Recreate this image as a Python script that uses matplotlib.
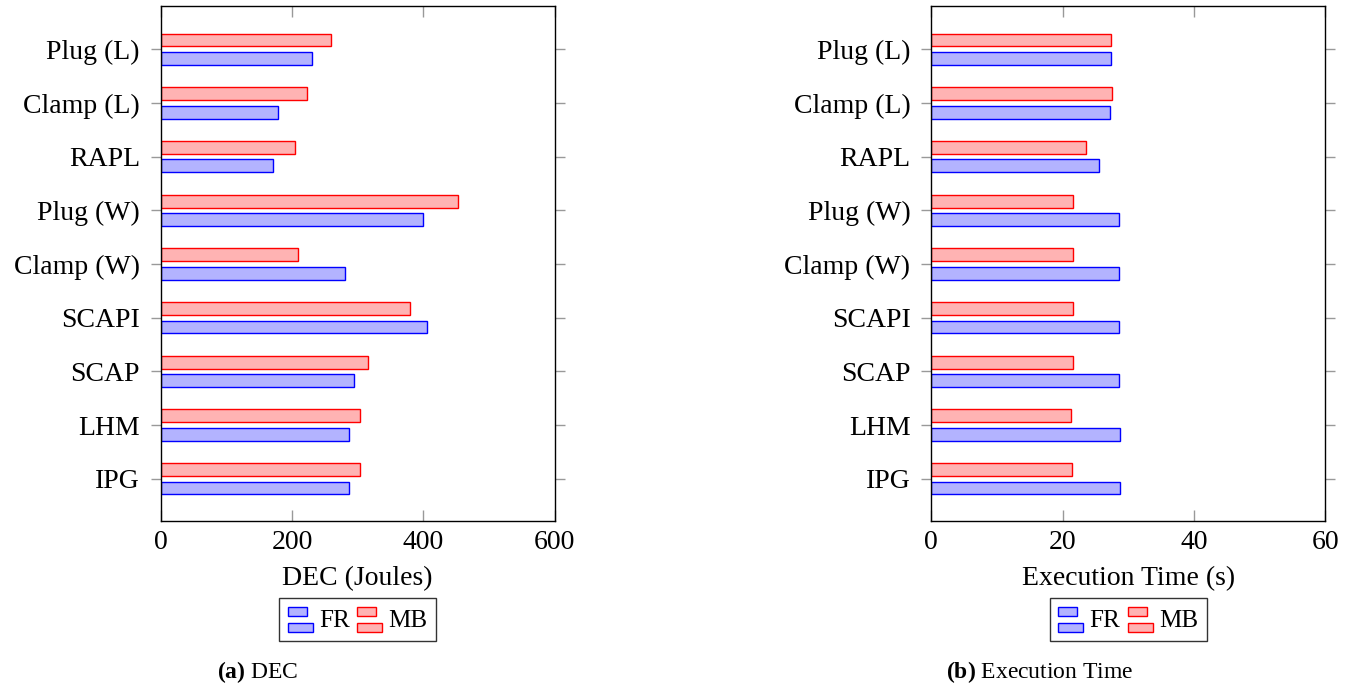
import matplotlib
matplotlib.use("Agg")
import matplotlib.pyplot as plt
import numpy as np
from matplotlib.patches import Rectangle
from matplotlib.container import BarContainer
from matplotlib.legend_handler import HandlerBase

plt.rcParams['font.family'] = ['Liberation Serif', 'DejaVu Serif']
plt.rcParams['mathtext.fontset'] = 'custom'
plt.rcParams['mathtext.rm'] = 'Liberation Serif'
plt.rcParams['mathtext.bf'] = 'Liberation Serif:bold'

# categories, bottom to top
categories = ['IPG', 'LHM', 'SCAP', 'SCAPI', 'Clamp (W)', 'Plug (W)', 'RAPL', 'Clamp (L)', 'Plug (L)']

dec_fr = [286, 286, 295, 405, 280, 400, 171, 178, 231]
dec_mb = [304, 303, 316, 380, 209, 453, 204, 223, 260]

time_fr = [28.7, 28.7, 28.65, 28.65, 28.65, 28.6, 25.6, 27.2, 27.3]
time_mb = [21.5, 21.2, 21.6, 21.6, 21.6, 21.6, 23.5, 27.45, 27.4]

dec_ticks = [0, 200, 400, 600]
time_ticks = [0, 20, 40, 60]

fr_face, fr_edge = '#b3b3ff', '#0000ff'
mb_face, mb_edge = '#ffb3b3', '#ff0000'


class TwoBars(HandlerBase):
    # pgfplots style xbar legend image: two little stacked bars
    def create_artists(self, legend, orig_handle, xdescent, ydescent,
                       width, height, fontsize, trans):
        p = orig_handle.patches[0]
        fc = p.get_facecolor()
        ec = p.get_edgecolor()
        h = height * 0.36
        r1 = Rectangle((-xdescent, -ydescent + height * 0.62), width * 0.75, h,
                       facecolor=fc, edgecolor=ec, lw=1.0, transform=trans)
        r2 = Rectangle((-xdescent, -ydescent - height * 0.05), width, h,
                       facecolor=fc, edgecolor=ec, lw=1.0, transform=trans)
        return [r1, r2]


W, H = 1357, 689
fig = plt.figure(figsize=(W / 100, H / 100), dpi=100)

y = np.arange(len(categories))
off = 0.172
bh = 0.24


def panel(left_px, fr, mb, xmax, ticks, xlabel):
    ax = fig.add_axes([left_px / W, 1 - 520.7 / H, 394 / W, (520.7 - 6.3) / H])
    ax.barh(y - off, fr, height=bh, color=fr_face, edgecolor=fr_edge, lw=1.0, label='FR')
    ax.barh(y + off, mb, height=bh, color=mb_face, edgecolor=mb_edge, lw=1.0, label='MB')
    ax.set_xlim(0, xmax)
    ax.set_ylim(-0.78, 8.8)
    ax.set_xticks(ticks)
    ax.set_yticks(y)
    ax.set_yticklabels(categories)
    ax.tick_params(axis='x', direction='in', length=8, width=1, color='#999999',
                   top=True, labelsize=20, pad=7)
    ax.tick_params(axis='y', direction='out', length=7, width=1, color='#999999',
                   right=True, labelsize=20, pad=8)
    for s in ax.spines.values():
        s.set_linewidth(1.0)
    ax.set_xlabel(xlabel, fontsize=20, labelpad=8)
    leg = ax.legend(loc='upper center', bbox_to_anchor=(0.5, -0.150), ncol=2,
                    fontsize=18, frameon=True, fancybox=False, edgecolor='black',
                    handler_map={BarContainer: TwoBars()},
                    handlelength=1.0, handleheight=1.1, handletextpad=0.25,
                    columnspacing=0.3, borderpad=0.35, borderaxespad=0)
    leg.get_frame().set_linewidth(1.0)
    return ax


panel(160.7, dec_fr, dec_mb, 600, dec_ticks, 'DEC (Joules)')
panel(931.3, time_fr, time_mb, 60, time_ticks, 'Execution Time (s)')

fig.text(257.5 / W, 1 - 672 / H, r'$\mathbf{(a)}$ DEC', ha='center', va='center', fontsize=17)
fig.text(1040 / W, 1 - 672 / H, r'$\mathbf{(b)}$ Execution Time', ha='center', va='center', fontsize=17)

fig.savefig('out.png', dpi=100)
